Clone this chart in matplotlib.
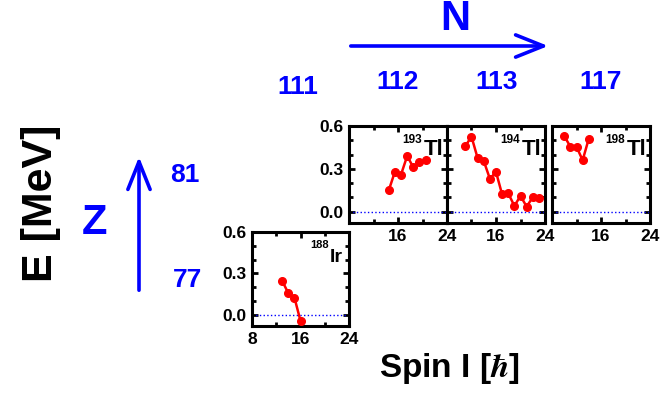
import numpy as np
import matplotlib
matplotlib.use("Agg")
import matplotlib.pyplot as plt
from matplotlib.patches import FancyArrowPatch
from matplotlib.ticker import MultipleLocator

plt.rcParams['font.family'] = ['Liberation Sans', 'DejaVu Sans']
plt.rcParams['font.weight'] = 'bold'
plt.rcParams['mathtext.fontset'] = 'stix'

# data: spin I and energy E [MeV]
spin_193tl = [14.5, 15.5, 16.5, 17.5, 18.5, 19.5, 20.5]
e_193tl = [0.15, 0.28, 0.26, 0.39, 0.31, 0.345, 0.36]

spin_194tl = [11, 12, 13, 14, 15, 16, 17, 18, 19, 20, 21, 22, 23]
e_194tl = [0.46, 0.525, 0.375, 0.355, 0.23, 0.278, 0.12, 0.128, 0.04, 0.11, 0.035, 0.10, 0.098]

spin_198tl = [10, 11, 12, 13, 14]
e_198tl = [0.53, 0.455, 0.455, 0.36, 0.51]

spin_188ir = [13, 14, 15, 16]
e_188ir = [0.245, 0.156, 0.125, -0.043]

n_labels = ['111', '112', '113', '117']
z_labels = ['77', '81']

W, H = 661, 409
fig = plt.figure(figsize=(W / 100, H / 100), dpi=100)
blue = '#0000ff'


def px(x, y):
    # pixel (from top-left) -> figure fraction
    return x / W, 1 - y / H


def panel(left, top, w, h):
    return fig.add_axes([left / W, 1 - (top + h) / H, w / W, h / H])


def style(ax, xlabels, ylabels):
    ax.set_xlim(8, 24)
    ax.set_ylim(-0.08, 0.6)
    ax.set_xticks([8, 16, 24])
    ax.xaxis.set_minor_locator(MultipleLocator(4))
    ax.set_yticks([0.0, 0.3, 0.6])
    ax.yaxis.set_minor_locator(MultipleLocator(0.1))
    ax.tick_params(which='both', direction='in', top=True, right=True,
                   width=2, labelsize=12.5)
    ax.tick_params(which='major', length=4, pad=4)
    ax.tick_params(which='minor', length=3)
    ax.set_xticklabels(xlabels)
    if ylabels:
        ax.set_yticklabels(['0.0', '0.3', '0.6'])
    else:
        ax.set_yticklabels([])
    for s in ax.spines.values():
        s.set_linewidth(2.2)
    ax.axhline(0, color='blue', ls=':', lw=1)


def isotope(ax, mass, name, x, y, size, sup_size, sup_dy):
    t = ax.text(x, y, name, transform=ax.transAxes,
                ha='right', va='baseline', fontsize=size, fontweight='bold')
    ax.annotate(mass, xy=(0, 0), xycoords=t, xytext=(-0.8, sup_dy),
                textcoords='offset points', ha='right', va='baseline',
                fontsize=sup_size, fontweight='bold')


def curve(ax, x, y):
    ax.plot(x, y, '-o', color='red', lw=1.8, ms=5.5, clip_on=False, zorder=3)


ax1 = panel(349, 126, 98, 97)
style(ax1, ['', '16', '24'], True)
curve(ax1, spin_193tl, e_193tl)
isotope(ax1, '193', 'Tl', 0.96, 0.70, 16, 8.5, 12.2)

ax2 = panel(447, 126, 98, 97)
style(ax2, ['', '16', '24'], False)
curve(ax2, spin_194tl, e_194tl)
isotope(ax2, '194', 'Tl', 0.96, 0.70, 16, 8.5, 12.2)

ax3 = panel(552, 126, 98, 97)
style(ax3, ['', '16', '24'], False)
curve(ax3, spin_198tl, e_198tl)
isotope(ax3, '198', 'Tl', 0.96, 0.70, 16, 8.5, 12.2)

ax4 = panel(252, 232, 97, 94)
style(ax4, ['8', '16', '24'], True)
curve(ax4, spin_188ir, e_188ir)
isotope(ax4, '188', 'Ir', 0.94, 0.685, 14, 8, 12.5)

# axis titles
fig.text(*px(41, 203), 'E [MeV]', rotation=90, ha='center', va='center',
         fontsize=31, fontweight='bold')
fig.text(*px(449, 368), r'Spin I [$\hbar$]', ha='center', va='center',
         fontsize=24, fontweight='bold')

# N and Z arrows
fig.text(*px(455, 19), 'N', ha='center', va='center', fontsize=30,
         fontweight='bold', color=blue)
fig.patches.append(FancyArrowPatch(
    px(348, 46), px(551, 46), transform=fig.transFigure,
    arrowstyle='->,head_length=20,head_width=8', color=blue, lw=2.6,
    mutation_scale=1, capstyle='round', joinstyle='round'))
fig.text(*px(95, 223), 'Z', ha='center', va='center', fontsize=30,
         fontweight='bold', color=blue)
fig.patches.append(FancyArrowPatch(
    px(139, 293), px(139, 154), transform=fig.transFigure,
    arrowstyle='->,head_length=20,head_width=8', color=blue, lw=2.6,
    mutation_scale=1, capstyle='round', joinstyle='round'))

n_pos = [(298, 87), (398, 82), (497, 82), (601, 82)]
for lab, (x, y) in zip(n_labels, n_pos):
    fig.text(*px(x, y), lab, ha='center', va='center', fontsize=19,
             fontweight='bold', color=blue)
z_pos = [(187, 280), (185, 175)]
for lab, (x, y) in zip(z_labels, z_pos):
    fig.text(*px(x, y), lab, ha='center', va='center', fontsize=19,
             fontweight='bold', color=blue)

fig.savefig('out.png', dpi=100)
